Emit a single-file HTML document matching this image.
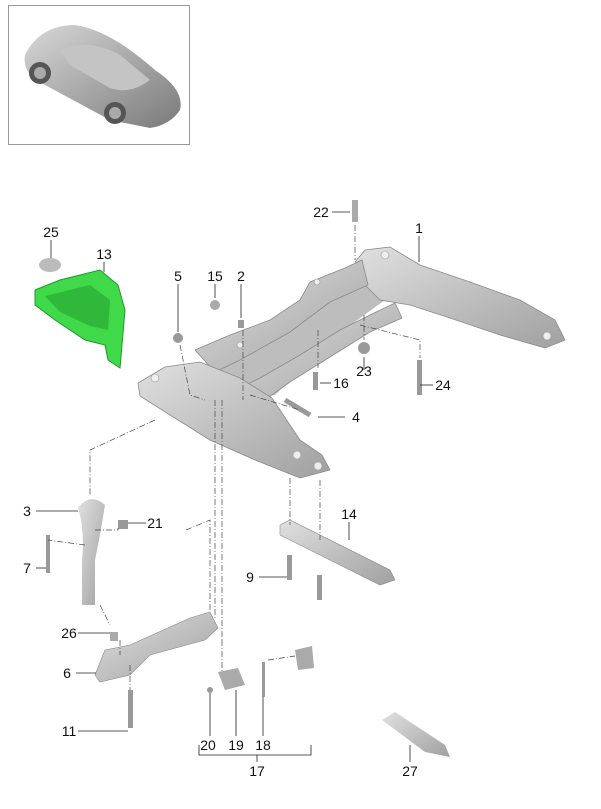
<!DOCTYPE html>
<html><head><meta charset="utf-8"><style>
html,body{margin:0;padding:0;background:#fff;}
svg{display:block;font-family:"Liberation Sans",sans-serif;}
text{font-size:14px;fill:#111;text-anchor:middle;}
</style></head><body>
<svg width="601" height="809" viewBox="0 0 601 809">
<defs>
<linearGradient id="g" x1="0" y1="0" x2="1" y2="1"><stop offset="0" stop-color="#e0e0e0"/><stop offset="1" stop-color="#a0a0a0"/></linearGradient>
<linearGradient id="car" x1="0" y1="0" x2="1" y2="1"><stop offset="0" stop-color="#d8d8d8"/><stop offset="1" stop-color="#7a7a7a"/></linearGradient>
</defs>
<rect x="8.5" y="5.5" width="181" height="139" fill="#fff" stroke="#999"/>
<path d="M25,55 Q40,25 75,25 Q110,30 155,70 Q185,90 180,110 Q170,125 150,128 L110,120 L45,85 Q22,75 25,55Z" fill="url(#car)"/>
<path d="M60,50 Q90,38 120,55 L150,80 Q130,95 110,88 L70,65Z" fill="#c4c4c4"/>
<circle cx="40" cy="73" r="11" fill="#555"/><circle cx="40" cy="73" r="6" fill="#aaa"/>
<circle cx="115" cy="113" r="11" fill="#555"/><circle cx="115" cy="113" r="6" fill="#aaa"/>
<!-- subframe -->
<path d="M205,362 L300,300 L360,264 L385,300 L330,340 L275,395 L235,392Z" fill="#bdbdbd"/>
<g fill="url(#g)" stroke="#8a8a8a" stroke-width="0.8">
<path d="M355,262 L365,250 L390,247 L420,265 L470,282 L520,300 L555,320 L565,340 L545,348 L500,335 L450,318 L410,305 L380,300 L365,285Z"/>
<path d="M195,350 L230,335 L270,320 L300,300 L310,282 L345,268 L362,260 L368,285 L330,302 L290,332 L240,360 L215,372Z"/>
<path d="M225,395 L260,378 L300,355 L340,330 L370,315 L395,303 L402,318 L370,332 L330,357 L290,382 L255,407Z"/>
<path d="M138,383 L165,367 L200,362 L240,378 L272,398 L300,440 L322,455 L330,470 L300,478 L255,460 L210,440 L170,415 L140,396Z"/>
</g>
<g fill="#eee" stroke="#999" stroke-width="0.6">
<circle cx="155" cy="378" r="4"/><circle cx="297" cy="455" r="4"/><circle cx="318" cy="466" r="4"/><circle cx="385" cy="255" r="4"/><circle cx="547" cy="336" r="4"/><circle cx="317" cy="282" r="3"/><circle cx="240" cy="345" r="3"/>
</g>
<path d="M35,290 L60,280 L100,270 L118,285 L125,310 L120,368 L108,360 L105,345 L85,340 L55,320 L35,305Z" fill="#3fd94a" stroke="#1e9a28" stroke-width="1"/>
<path d="M45,296 L90,285 L110,300 L108,330 L90,326 L60,312Z" fill="#2fb83a"/>
<ellipse cx="50" cy="265" rx="11" ry="7" fill="#bbb"/>
<circle cx="178" cy="338" r="5" fill="#999"/><circle cx="215" cy="305" r="5" fill="#aaa"/><rect x="238" y="320" width="6" height="8" fill="#999"/>
<rect x="352" y="200" width="6" height="22" fill="#aaa"/>
<circle cx="364" cy="348" r="6" fill="#999"/>
<rect x="313" y="372" width="5" height="18" fill="#999"/><rect x="417" y="360" width="5" height="35" fill="#999"/>
<path d="M285,400 L310,415" stroke="#999" stroke-width="5"/>
<path d="M78,508 Q90,492 105,505 L100,535 L95,560 L95,605 L82,605 L82,560 Q85,530 78,508Z" fill="url(#g)"/>
<rect x="118" y="520" width="10" height="9" fill="#999"/>
<rect x="46" y="535" width="4" height="38" fill="#999"/>
<path d="M280,525 L290,520 L390,570 L395,580 L380,585 L280,535Z" fill="url(#g)" stroke="#888" stroke-width="0.6"/>
<rect x="287" y="555" width="5" height="25" fill="#999"/><rect x="317" y="575" width="5" height="25" fill="#999"/>
<path d="M95,675 L105,650 L130,645 L190,618 L210,612 L218,628 L205,640 L150,655 L130,675 L100,682Z" fill="url(#g)" stroke="#888" stroke-width="0.6"/>
<rect x="110" y="632" width="8" height="9" fill="#aaa"/>
<rect x="128" y="690" width="5" height="38" fill="#999"/>
<path d="M218,672 L238,668 L245,685 L225,690Z" fill="#aaa"/>
<rect x="262" y="662" width="3" height="35" fill="#999"/>
<path d="M295,650 L312,646 L314,668 L298,670Z" fill="#aaa"/>
<circle cx="210" cy="690" r="3" fill="#999"/>
<path d="M382,720 L395,712 L445,745 L450,757 L425,752Z" fill="url(#g)"/>
<g stroke="#444" stroke-width="0.7" stroke-dasharray="6,2,1,2" fill="none">
<path d="M355,225 V260"/><path d="M364,315 V340"/><path d="M318,330 V368"/><path d="M360,325 L420,340 V358"/>
<path d="M180,345 L190,395 L205,400"/><path d="M243,330 V400"/><path d="M250,395 L300,410"/>
<path d="M155,420 L90,450 V495"/><path d="M95,530 H118 V528"/><path d="M85,545 L48,540"/>
<path d="M215,400 V620"/><path d="M222,400 V640"/><path d="M186,530 L210,520 V610"/>
<path d="M290,478 V525"/><path d="M320,480 V540"/><path d="M100,605 L110,625"/>
<path d="M120,640 V655"/><path d="M130,665 V690"/><path d="M222,640 V672"/><path d="M268,660 L295,656"/>
</g>
<g stroke="#222" stroke-width="0.8">
<line x1="332" y1="212" x2="350" y2="212"/><line x1="419" y1="236" x2="419" y2="262"/>
<line x1="51" y1="240" x2="51" y2="258"/><line x1="104" y1="262" x2="104" y2="272"/>
<line x1="178" y1="284" x2="178" y2="332"/><line x1="215" y1="284" x2="215" y2="298"/><line x1="241" y1="284" x2="241" y2="318"/>
<line x1="320" y1="383" x2="331" y2="383"/><line x1="364" y1="357" x2="364" y2="370"/><line x1="420" y1="385" x2="433" y2="385"/>
<line x1="318" y1="417" x2="345" y2="417"/><line x1="36" y1="511" x2="78" y2="511"/><line x1="128" y1="523" x2="146" y2="523"/>
<line x1="349" y1="522" x2="349" y2="540"/><line x1="36" y1="568" x2="46" y2="568"/><line x1="259" y1="577" x2="287" y2="577"/>
<line x1="78" y1="633" x2="110" y2="633"/><line x1="76" y1="673" x2="96" y2="673"/><line x1="78" y1="731" x2="128" y2="731"/>
<line x1="210" y1="693" x2="210" y2="736"/><line x1="236" y1="690" x2="236" y2="736"/><line x1="263" y1="697" x2="263" y2="736"/>
<path d="M199,745 V755 H311 V745" fill="none"/><line x1="257" y1="755" x2="257" y2="762"/>
<line x1="410" y1="745" x2="410" y2="762"/>
</g>
<g>
<text x="321" y="217">22</text><text x="419" y="233">1</text><text x="51" y="237">25</text><text x="104" y="259">13</text>
<text x="178" y="281">5</text><text x="215" y="281">15</text><text x="241" y="281">2</text>
<text x="341" y="388">16</text><text x="364" y="376">23</text><text x="443" y="390">24</text><text x="356" y="422">4</text>
<text x="27" y="516">3</text><text x="155" y="528">21</text><text x="349" y="519">14</text><text x="27" y="573">7</text>
<text x="250" y="582">9</text><text x="69" y="638">26</text><text x="67" y="678">6</text><text x="69" y="736">11</text>
<text x="208" y="750">20</text><text x="236" y="750">19</text><text x="263" y="750">18</text><text x="257" y="776">17</text><text x="410" y="776">27</text>
</g>
</svg>
</body></html>
